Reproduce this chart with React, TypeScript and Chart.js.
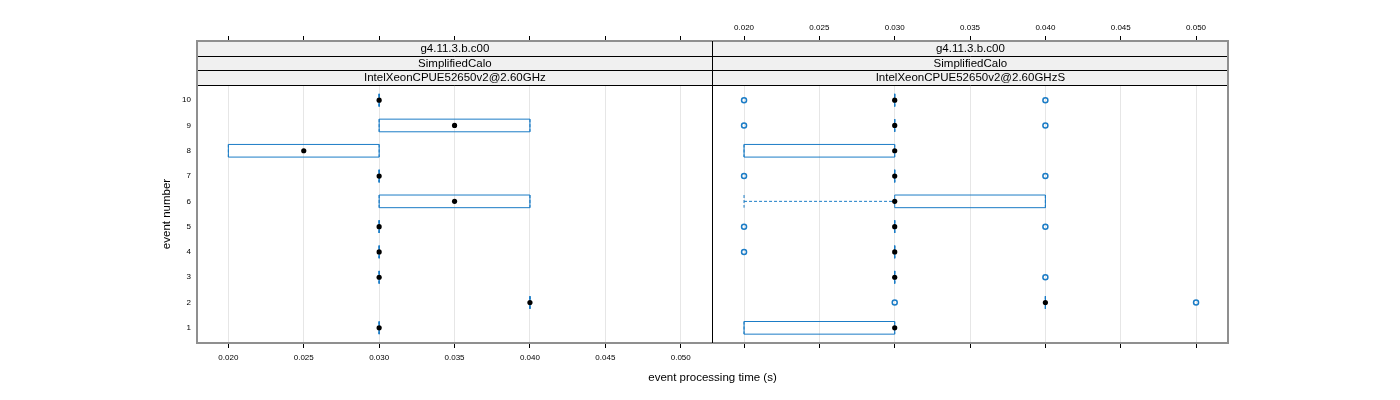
import React, { useEffect, useRef } from "react";
import { Chart, registerables } from "chart.js";

Chart.register(...registerables);

// ---------- data ----------
const events = [1, 2, 3, 4, 5, 6, 7, 8, 9, 10];
const xTickValues = [0.02, 0.025, 0.03, 0.035, 0.04, 0.045, 0.05];
const xMin = 0.01792;
const xMax = 0.05212;
const yMin = 0.4;
const yMax = 10.6;

const stripLabelsLeft = ["g4.11.3.b.c00", "SimplifiedCalo", "IntelXeonCPUE52650v2@2.60GHz"];
const stripLabelsRight = ["g4.11.3.b.c00", "SimplifiedCalo", "IntelXeonCPUE52650v2@2.60GHzS"];

// left panel (IntelXeonCPUE52650v2@2.60GHz), per event 1..10
const leftMedian = [0.03, 0.04, 0.03, 0.03, 0.03, 0.035, 0.03, 0.025, 0.035, 0.03];
const leftQ1 = [0.03, 0.04, 0.03, 0.03, 0.03, 0.03, 0.03, 0.02, 0.03, 0.03];
const leftQ3 = [0.03, 0.04, 0.03, 0.03, 0.03, 0.04, 0.03, 0.03, 0.04, 0.03];
const leftLo = [0.03, 0.04, 0.03, 0.03, 0.03, 0.03, 0.03, 0.02, 0.03, 0.03];
const leftHi = [0.03, 0.04, 0.03, 0.03, 0.03, 0.04, 0.03, 0.03, 0.04, 0.03];
const leftOutliers: number[][] = [[], [], [], [], [], [], [], [], [], []];

// right panel (IntelXeonCPUE52650v2@2.60GHzS)
const rightMedian = [0.03, 0.04, 0.03, 0.03, 0.03, 0.03, 0.03, 0.03, 0.03, 0.03];
const rightQ1 = [0.02, 0.04, 0.03, 0.03, 0.03, 0.03, 0.03, 0.02, 0.03, 0.03];
const rightQ3 = [0.03, 0.04, 0.03, 0.03, 0.03, 0.04, 0.03, 0.03, 0.03, 0.03];
const rightLo = [0.02, 0.04, 0.03, 0.03, 0.03, 0.02, 0.03, 0.02, 0.03, 0.03];
const rightHi = [0.03, 0.04, 0.03, 0.03, 0.03, 0.04, 0.03, 0.03, 0.03, 0.03];
const rightOutliers: number[][] = [
  [],
  [0.03, 0.05],
  [0.04],
  [0.02],
  [0.02, 0.04],
  [],
  [0.02, 0.04],
  [],
  [0.02, 0.04],
  [0.02, 0.04],
];

const xTitle = "event processing time (s)";
const yTitle = "event number";

// ---------- style / layout ----------
const W = 1400;
const H = 400;
const PANEL_TOP = 41; // top of strips
const STRIP_H = 44 / 3;
const PLOT_TOP = 85;
const PLOT_BOTTOM = 343;
const LEFT_X0 = 197;
const MID_X = 712.7;
const RIGHT_X1 = 1228;
const BLUE = "#1b7cc6";
const FONT = "'Liberation Sans', Arial, Helvetica, sans-serif";
const BOX_HALF = 0.25;

// y scale extended upward so the strip band sits above the data range
const yTop = yMax + ((yMax - yMin) * (PLOT_TOP - PANEL_TOP)) / (PLOT_BOTTOM - PLOT_TOP);

type Panel = {
  median: number[];
  q1: number[];
  q3: number[];
  lo: number[];
  hi: number[];
  outliers: number[][];
  strips: string[];
  isLeft: boolean;
};

const panels: Panel[] = [
  { median: leftMedian, q1: leftQ1, q3: leftQ3, lo: leftLo, hi: leftHi, outliers: leftOutliers, strips: stripLabelsLeft, isLeft: true },
  { median: rightMedian, q1: rightQ1, q3: rightQ3, lo: rightLo, hi: rightHi, outliers: rightOutliers, strips: stripLabelsRight, isLeft: false },
];

function makePlugin(p: Panel) {
  return {
    id: "bwpanel",
    beforeDatasetsDraw(chart: any) {
      const ctx = chart.ctx as CanvasRenderingContext2D;
      const xs = chart.scales.x;
      const ys = chart.scales.y;
      ctx.save();
      ctx.strokeStyle = BLUE;
      ctx.lineWidth = 1;
      events.forEach((ev, i) => {
        const yc = ys.getPixelForValue(ev);
        const ya = ys.getPixelForValue(ev + BOX_HALF);
        const yb = ys.getPixelForValue(ev - BOX_HALF);
        const xq1 = xs.getPixelForValue(p.q1[i]);
        const xq3 = xs.getPixelForValue(p.q3[i]);
        const xlo = xs.getPixelForValue(p.lo[i]);
        const xhi = xs.getPixelForValue(p.hi[i]);
        // whiskers + umbrellas (dashed)
        ctx.setLineDash([3, 2]);
        ctx.beginPath();
        if (xlo !== xq1) {
          ctx.moveTo(xlo, yc);
          ctx.lineTo(xq1, yc);
        }
        if (xhi !== xq3) {
          ctx.moveTo(xq3, yc);
          ctx.lineTo(xhi, yc);
        }
        ctx.moveTo(xlo, ya);
        ctx.lineTo(xlo, yb);
        ctx.moveTo(xhi, ya);
        ctx.lineTo(xhi, yb);
        ctx.stroke();
        // box
        ctx.setLineDash([]);
        ctx.beginPath();
        ctx.rect(xq1, ya, xq3 - xq1, yb - ya);
        ctx.stroke();
      });
      ctx.restore();
    },
    afterDraw(chart: any) {
      const ctx = chart.ctx as CanvasRenderingContext2D;
      const x0 = p.isLeft ? LEFT_X0 : MID_X;
      const x1 = p.isLeft ? MID_X : RIGHT_X1;
      ctx.save();
      // strips
      ctx.fillStyle = "#f0f0f0";
      ctx.fillRect(x0, PANEL_TOP, x1 - x0, PLOT_TOP - PANEL_TOP);
      ctx.fillStyle = "#000";
      ctx.font = `11.5px ${FONT}`;
      ctx.textAlign = "center";
      ctx.textBaseline = "middle";
      p.strips.forEach((s, k) => {
        ctx.fillText(s, (x0 + x1) / 2, PANEL_TOP + STRIP_H * (k + 0.5) + 0.5);
      });
      ctx.strokeStyle = "#000";
      ctx.lineWidth = 1;
      ctx.beginPath();
      for (let k = 1; k <= 3; k++) {
        const y = Math.round(PANEL_TOP + STRIP_H * k) + 0.5;
        ctx.moveTo(x0, y);
        ctx.lineTo(x1, y);
      }
      ctx.stroke();
      // outer frame (grey)
      ctx.strokeStyle = "#8f8f8f";
      ctx.lineWidth = 2;
      ctx.beginPath();
      ctx.moveTo(x0, PANEL_TOP);
      ctx.lineTo(x1, PANEL_TOP);
      ctx.moveTo(x0, PLOT_BOTTOM);
      ctx.lineTo(x1, PLOT_BOTTOM);
      if (p.isLeft) {
        ctx.moveTo(x0, PANEL_TOP - 1);
        ctx.lineTo(x0, PLOT_BOTTOM + 1);
      } else {
        ctx.moveTo(x1, PANEL_TOP - 1);
        ctx.lineTo(x1, PLOT_BOTTOM + 1);
      }
      ctx.stroke();
      if (!p.isLeft) {
        ctx.strokeStyle = "#000";
        ctx.lineWidth = 1;
        ctx.beginPath();
        ctx.moveTo(712.5, PANEL_TOP);
        ctx.lineTo(712.5, PLOT_BOTTOM);
        ctx.stroke();
      }
      if (p.isLeft) {
        ctx.fillStyle = "#000";
        ctx.font = `11.5px ${FONT}`;
        ctx.textAlign = "center";
        ctx.textBaseline = "middle";
        ctx.fillText(xTitle, (LEFT_X0 + RIGHT_X1) / 2, 378);
        ctx.translate(167, (PLOT_TOP + PLOT_BOTTOM) / 2);
        ctx.rotate(-Math.PI / 2);
        ctx.fillText(yTitle, 0, 0);
      }
      ctx.restore();
    },
  };
}

function buildConfig(p: Panel): any {
  const medianData = events.map((ev, i) => ({ x: p.median[i], y: ev }));
  const outlierData: { x: number; y: number }[] = [];
  events.forEach((ev, i) => p.outliers[i].forEach((v) => outlierData.push({ x: v, y: ev })));
  const setTicks = (s: any) => {
    s.ticks = xTickValues.map((v) => ({ value: v }));
  };
  const tickFont = { family: FONT, size: 8 };
  const labelAxis = (position: string, height: number, pad: number) => ({
    type: "linear",
    position,
    min: xMin,
    max: xMax,
    afterBuildTicks: setTicks,
    afterFit: (s: any) => {
      s.height = height;
    },
    border: { display: false },
    grid: { color: "#e6e6e6", tickColor: "#000", tickLength: 5, lineWidth: 1 },
    ticks: { font: tickFont, color: "#000", padding: pad, maxRotation: 0, callback: (v: any) => Number(v).toFixed(3) },
  });
  const plainAxis = (position: string, height: number) => ({
    type: "linear",
    position,
    min: xMin,
    max: xMax,
    afterBuildTicks: setTicks,
    afterFit: (s: any) => {
      s.height = height;
    },
    border: { display: false },
    grid: { drawOnChartArea: false, tickColor: "#000", tickLength: 5 },
    ticks: { font: tickFont, color: "#000", callback: () => "" },
  });
  const yScale: any = {
    type: "linear",
    position: "left",
    min: yMin,
    max: yTop,
    display: p.isLeft,
    afterBuildTicks: (s: any) => {
      s.ticks = events.map((v) => ({ value: v }));
    },
    border: { display: false },
    grid: { display: false, drawTicks: false },
    ticks: { font: tickFont, color: "#000", padding: 6 },
  };
  if (p.isLeft) {
    yScale.afterFit = (s: any) => {
      s.width = LEFT_X0;
    };
  }
  const scales: any = { y: yScale };
  if (p.isLeft) {
    scales.x = labelAxis("bottom", H - PLOT_BOTTOM, 5);
    scales.x2 = plainAxis("top", PANEL_TOP);
  } else {
    scales.x = labelAxis("top", PANEL_TOP, 3);
    scales.x2 = plainAxis("bottom", H - PLOT_BOTTOM);
  }
  const datasets: any[] = [
    {
      label: "median",
      data: medianData,
      pointRadius: 2.6,
      pointBackgroundColor: "#000",
      pointBorderWidth: 0,
      pointBorderColor: "#000",
      xAxisID: "x",
      yAxisID: "y",
    },
  ];
  if (outlierData.length) {
    datasets.push({
      label: "outliers",
      data: outlierData,
      pointRadius: 2.5,
      pointBackgroundColor: "rgba(0,0,0,0)",
      pointBorderColor: BLUE,
      pointBorderWidth: 1.5,
      xAxisID: "x",
      yAxisID: "y",
    });
  }
  return {
    type: "scatter",
    data: { datasets },
    options: {
      animation: false,
      responsive: false,
      devicePixelRatio: 1,
      layout: {
        padding: p.isLeft
          ? { left: 0, top: 0, bottom: 0, right: W - MID_X }
          : { left: MID_X, top: 0, bottom: 0, right: W - RIGHT_X1 },
      },
      plugins: { legend: { display: false }, tooltip: { enabled: false } },
      scales,
    },
    plugins: [makePlugin(p)],
  };
}

function PanelCanvas({ panel }: { panel: Panel }) {
  const ref = useRef<HTMLCanvasElement | null>(null);
  useEffect(() => {
    if (!ref.current) return;
    const chart = new Chart(ref.current, buildConfig(panel));
    return () => chart.destroy();
  }, [panel]);
  return (
    <canvas
      ref={ref}
      width={W}
      height={H}
      style={{ position: "absolute", left: 0, top: 0, width: W, height: H }}
    />
  );
}

export default function App() {
  return (
    <div style={{ position: "absolute", left: 0, top: 0, width: W, height: H, background: "#fff" }}>
      <PanelCanvas panel={panels[0]} />
      <PanelCanvas panel={panels[1]} />
    </div>
  );
}
